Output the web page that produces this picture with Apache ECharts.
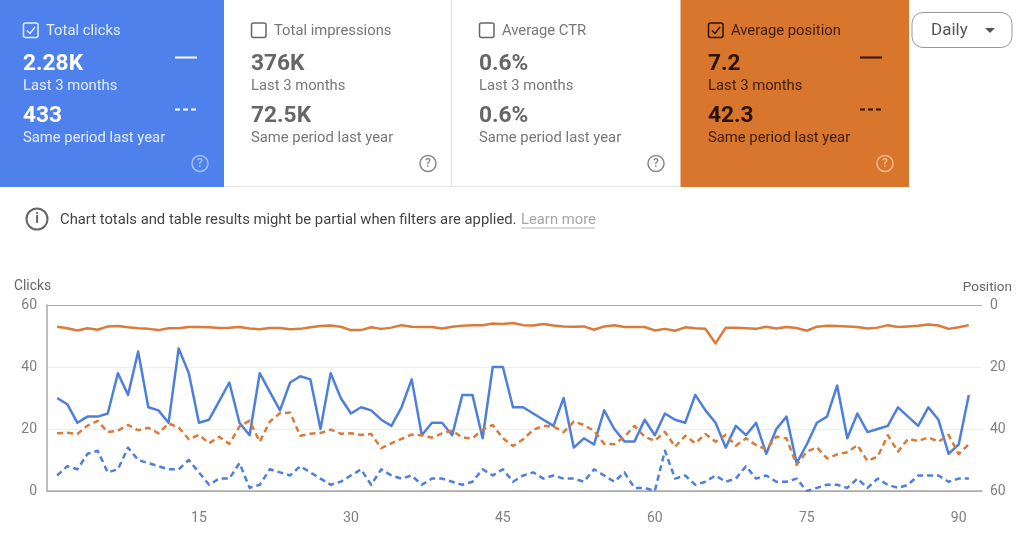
<!DOCTYPE html>
<html><head><meta charset="utf-8">
<style>html,body{margin:0;padding:0;background:#fff}#c{width:1024px;height:535px}</style>
<script src="https://cdn.jsdelivr.net/npm/echarts@6/dist/echarts.min.js"></script>
</head><body><div id="c"></div>
<script>
const clicks=[30,28,22,24,24,25,38,31,45,27,26,22,46,38,22,23,29,35,22,18,38,32,26,35,37,36,20,38,30,25,27,26,23,21,27,36,18,22,22,18,31,31,17,40,40,27,27,25,23,21,30,14,17,15,26,20,16,16,23,18,25,23,22,31,26,22,14,21,18,22,12,20,24,9,15,22,24,34,17,25,19,20,21,27,24,21,27,23,12,15,31];
const clicksPrev=[5,8,7,12,13,6,7,14,10,9,8,7,7,10,6,2,4,4,9,1,2,7,6,5,8,6,4,2,3,5,7,2,7,5,4,5,2,4,4,3,2,3,7,5,7,3,5,6,4,5,4,4,3,7,5,3,6,1,1,0,13,4,5,2,3,5,3,4,8,4,5,3,3,4,0,1,2,2,1,4,1,4,2,1,2,5,5,5,3,4,4];
const position=[7,7.5,8.2,7.5,8,6.9,6.8,7.2,7.5,7.7,8.1,7.5,7.5,7.1,7.1,7.2,7.4,7.3,7.1,7.6,7.8,7.4,7.4,7.8,7.7,7.2,6.8,6.6,7,8.1,8.1,7.2,7.7,7.3,6.5,7,7.1,7.1,7.6,7,6.7,6.5,6.5,6,6.1,5.8,6.5,6.6,6.1,6.6,6.9,7,6.9,8,6.9,6.5,7.1,7.1,7.1,8.2,7.7,8.3,7.2,7.5,7.7,12.4,7.3,7.3,7.5,7.7,7,7.6,7.1,7.4,8.3,7,6.7,6.8,6.9,7.1,7.6,7.3,6.5,7.1,6.9,6.7,6.3,6.6,7.7,7.2,6.5];
const positionPrev=[41.4,41.2,41.6,38.9,37.4,41,40.5,38.7,40.4,39.6,41.4,38.2,39.5,43.3,41.9,44.6,42.5,44.8,39.2,37.3,44.1,37.6,34.9,34.7,42.2,41.5,41.3,40.2,41.5,41.4,41.9,41.6,46.2,44.6,43.2,41.8,42,42.8,41.4,40.5,42.8,43,40.2,38.7,43,45.5,43.3,40.3,39,39.2,41,37.6,38.7,40.6,44.8,44.9,42.5,39,42.5,43.8,40.9,45.7,42.2,44.6,41.6,44.1,41.9,45.4,43,45.2,46.6,42.5,43,51.6,47.3,45.9,49.5,48.2,47.5,45.2,50.3,48.9,42,47.3,43.2,43.9,42.7,44.1,41.9,48.1,44.9];
const cardTitles=['Total clicks','Total impressions','Average CTR','Average position'];
const cardValues=['2.28K','376K','0.6%','7.2'];
const cardValuesPrev=['433','72.5K','0.6%','42.3'];
const periodNow='Last 3 months';
const periodPrev='Same period last year';
const notice='Chart totals and table results might be partial when filters are applied.';
const learn='Learn more';
const dropdown='Daily';

const FF='Roboto';
const BLUE='#4f81ec',ORANGE='#d8762e',LBLUE='#4e7fdc',LORANGE='#d97b3a';
const cards=[
 {x:0,w:224,dx:23,bg:BLUE,fg:'#fff',sub:'#e4ecfc',box:'#e8effd',help:'#a9c2f5',on:true,legend:'#fff'},
 {x:224,w:228,dx:27,bg:'#fff',fg:'#666',sub:'#777',box:'#666',help:'#888',on:false},
 {x:452,w:228,dx:27,bg:'#fff',fg:'#666',sub:'#777',box:'#666',help:'#888',on:false},
 {x:680.5,w:228.5,dx:27.5,bg:ORANGE,fg:'#2a1206',sub:'#3f1d08',box:'#2a1206',help:'#f3b98c',on:true,legend:'#2a1206'}
];
const g=[];
function T(x,y,text,size,fill,o){g.push({type:'text',x,y,silent:true,z:5,style:Object.assign({text,fontFamily:FF,fontSize:size,fill,verticalAlign:'middle',align:'left'},o||{})});}
function L(x1,y1,x2,y2,stroke,w,dash){g.push({type:'line',silent:true,z:5,shape:{x1,y1,x2,y2},style:{stroke,lineWidth:w,lineDash:dash||null}});}
g.push({type:'line',silent:true,z:1,shape:{x1:224,y1:186.5,x2:680,y2:186.5},style:{stroke:'#e4e4e4',lineWidth:1}});
g.push({type:'line',silent:true,z:1,shape:{x1:451.5,y1:0,x2:451.5,y2:186},style:{stroke:'#e4e4e4',lineWidth:1}});
cards.forEach((c,i)=>{
 g.push({type:'rect',silent:true,z:2,shape:{x:c.x,y:0,width:c.w,height:187},style:{fill:c.bg==='#fff'?'rgba(255,255,255,0)':c.bg}});
 const x=c.x+c.dx;
 g.push({type:'rect',silent:true,z:5,shape:{x:x+.5,y:23,width:14.5,height:14.5,r:2},style:{fill:'none',stroke:c.box,lineWidth:1.5}});
 if(c.on)g.push({type:'polyline',silent:true,z:5,shape:{points:[[x+4,30.5],[x+7,33.5],[x+12,27]]},style:{fill:'none',stroke:c.box,lineWidth:1.4}});
 T(x+23,31.5,cardTitles[i],14.8,c.sub);
 T(x,64,cardValues[i],22.7,c.fg,{fontWeight:700});
 T(x,86.5,periodNow,14.8,c.sub);
 T(x,116,cardValuesPrev[i],22.7,c.fg,{fontWeight:700});
 T(x,138.5,periodPrev,14.8,c.sub);
 if(c.on){L(x+152,57.5,x+174,57.5,c.legend,2);L(x+152,109.5,x+174,109.5,c.legend,2,[5,3]);}
 const hx=c.x+c.w-24;
 g.push({type:'circle',silent:true,z:5,shape:{cx:hx,cy:163.5,r:8},style:{fill:'none',stroke:c.help,lineWidth:1.5}});
 T(hx,164,'?',12,c.help,{align:'center',fontWeight:500});
});
g.push({type:'rect',silent:true,z:5,shape:{x:912,y:12.5,width:100,height:35,r:11},style:{fill:'#fff',stroke:'#999',lineWidth:1}});
T(931,30.5,dropdown,17,'#555');
g.push({type:'polygon',silent:true,z:5,shape:{points:[[985,28],[995,28],[990,33]]},style:{fill:'#555'}});
g.push({type:'circle',silent:true,z:5,shape:{cx:37,cy:219,r:10.5},style:{fill:'none',stroke:'#666',lineWidth:2}});
T(37,219.5,'i',14,'#666',{align:'center',fontWeight:700});
T(60,220,notice,14.8,'#444');
T(521,220,learn,14.8,'#a5a5a5');
L(521,228,595,228,'#b5b5b5',1);

const pairs=a=>a.map((v,i)=>[i+1,v]);
const line=(name,data,color,yi,dash)=>({name,type:'line',data:pairs(data),yAxisIndex:yi,showSymbol:false,symbol:'none',smooth:false,silent:true,lineStyle:{color,width:2.5,type:dash?[6,4]:'solid',join:'round'},emphasis:{disabled:true}});
const chart=echarts.init(document.getElementById('c'),null,{renderer:'canvas'});
chart.setOption({
 animation:false,backgroundColor:'#fff',
 textStyle:{fontFamily:FF},
 grid:{left:47,right:42,top:305,bottom:44,containLabel:false},
 xAxis:{type:'value',min:0,max:92.3,interval:15,splitLine:{show:false},axisTick:{show:false},
  axisLine:{lineStyle:{color:'#aaa',width:1.5}},
  axisLabel:{showMinLabel:false,showMaxLabel:false,color:'#808080',fontSize:14,margin:20,fontFamily:FF}},
 yAxis:[
  {type:'value',min:0,max:60,interval:20,name:'Clicks',nameLocation:'end',nameGap:11,
   nameTextStyle:{color:'#666',fontSize:13.8,fontFamily:FF,align:'left',padding:[0,0,0,-33]},
   axisLine:{show:true,lineStyle:{color:'#aaa',width:1.5}},axisTick:{show:false},
   axisLabel:{color:'#808080',fontSize:14,margin:10,fontFamily:FF,padding:[3,0,0,0]},
   splitLine:{show:true,lineStyle:{color:['#aaa','#eee','#eee','#aaa'],width:1.2}}},
  {type:'value',min:0,max:60,interval:20,inverse:true,position:'right',name:'Position',nameLocation:'start',nameGap:10,
   nameTextStyle:{color:'#666',fontSize:13.5,fontFamily:FF,align:'right',padding:[0,-30,0,0]},
   axisLine:{show:false},axisTick:{show:false},
   axisLabel:{color:'#808080',fontSize:14,margin:8,fontFamily:FF,padding:[3,0,0,0]},splitLine:{show:false}}
 ],
 graphic:g,
 series:[
  line('Clicks',clicks,LBLUE,0,false),
  line('Clicks last year',clicksPrev,LBLUE,0,true),
  line('Position',position,LORANGE,1,false),
  line('Position last year',positionPrev,LORANGE,1,true)
 ]
});
</script></body></html>
